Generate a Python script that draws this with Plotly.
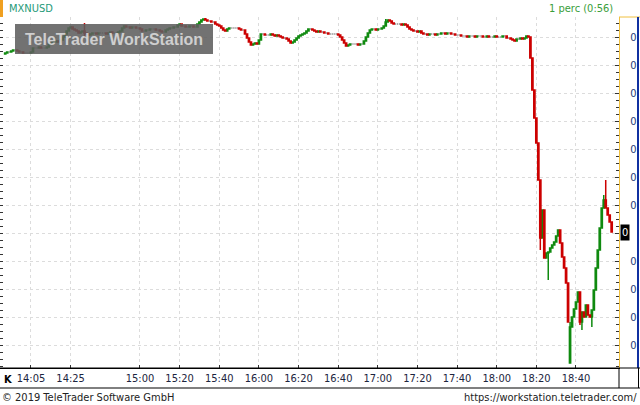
import plotly.graph_objects as go
import pandas as pd
import numpy as np

# ---------------- data ----------------
symbol = "MXNUSD"
interval_label = "1 perc (0:56)"
start_time = "2019-05-30 13:52"
range_start = "2019-05-30 13:49:22"
range_end = "2019-05-30 19:01:42"

# 1-minute closes, in millionths (51920 -> 0.051920)
closes_u6 = [
    51920, 51925, 51925, 51930, 51935, 51935, 51930, 51925, 51925, 51920,
    51920, 51920, 51920, 51925, 51945, 51945, 51945, 51950, 51945, 51945,
    51945, 51950, 51965, 51970, 51975, 51975, 51980, 51975, 51985, 52000,
    52015, 52030, 52045, 52050, 52040, 52035, 52030, 52020, 52025, 52030,
    52020, 52015, 52010, 52015, 52020, 52020, 52015, 52020, 52020, 52020,
    52020, 52015, 52020, 52025, 52020, 52020, 52020, 52025, 52030, 52045,
    52055, 52050, 52050, 52045, 52050, 52050, 52045, 52045, 52040, 52030,
    52030, 52035, 52035, 52040, 52040, 52040, 52035, 52035, 52030, 52025,
    52025, 52035, 52040, 52045, 52045, 52050, 52050, 52060, 52065, 52055,
    52055, 52050, 52050, 52055, 52055, 52050, 52050, 52065, 52075, 52085,
    52090, 52085, 52080, 52080, 52075, 52075, 52065, 52060, 52055, 52045,
    52035, 52030, 52040, 52045, 52045, 52045, 52045, 52045, 52040, 52035,
    52035, 52015, 51995, 51975, 51960, 51965, 51970, 51965, 51985, 52015,
    52015, 52010, 52010, 52010, 52015, 52010, 52005, 52010, 52005, 52000,
    51995, 51995, 51990, 51980, 51970, 51975, 51985, 51995, 52005, 52010,
    52015, 52020, 52030, 52040, 52040, 52035, 52030, 52025, 52030, 52025,
    52025, 52020, 52020, 52015, 52015, 52015, 52015, 52015, 52010, 52000,
    51985, 51970, 51955, 51960, 51965, 51965, 51965, 51965, 51960, 51965,
    51965, 51980, 52000, 52020, 52035, 52040, 52040, 52035, 52040, 52040,
    52045, 52055, 52075, 52085, 52080, 52070, 52065, 52065, 52065, 52065,
    52060, 52065, 52060, 52050, 52040, 52035, 52030, 52030, 52025, 52030,
    52020, 52015, 52015, 52010, 52015, 52015, 52015, 52010, 52015, 52015,
    52020, 52020, 52015, 52020, 52020, 52015, 52015, 52010, 52010, 52010,
    52005, 52005, 52005, 52000, 52005, 52005, 52005, 52000, 52005, 52005,
    52005, 52000, 52000, 52005, 52000, 52000, 52000, 52005, 52000, 52000,
    52000, 52005, 52005, 51995, 51995, 51990, 51985, 51980, 51990, 51990,
    51995, 51990, 51995, 52005, 52000, 51895, 51735, 51595, 51470, 51285,
    50995, 51135, 50895, 50920, 50925, 50945, 50960, 50975, 51005, 51035,
    50970, 50900, 50845, 50770, 50575, 50550, 50600, 50640, 50675, 50725,
    50575, 50625, 50600, 50660, 50610, 50600, 50635, 50735, 50845, 50935,
    51045, 51145, 51185, 51145, 51110, 51075, 51025,
]
first_open_u6 = 51915
open_overrides_u6 = {285: 50370}
high_overrides_u6 = {40: 52070, 101: 52095, 192: 52090, 285: 50575,
                     302: 51210, 303: 51285}
low_overrides_u6 = {40: 52000, 270: 50935, 274: 50785, 290: 50560,
                    291: 50535, 296: 50550}

x_tick_labels = ["14:05", "14:25", "15:00", "15:20", "15:40", "16:00", "16:20",
                 "16:40", "17:00", "17:20", "17:40", "18:00", "18:20", "18:40"]
y_tick_values_u6 = [52000, 51860, 51720, 51580, 51440, 51300, 51160, 51020,
                    50880, 50740, 50600, 50460]
y_tick_text = ["0", "0", "0", "0", "0", "0", "0", "", "0", "0", "0", "0"]
y_range_u6 = [50345, 52100]
last_value_text = "0"

# ---------------- build ----------------
scale = 1e-6
closes = np.array(closes_u6) * scale
opens_u6 = [first_open_u6] + closes_u6[:-1]
for k, v in open_overrides_u6.items():
    opens_u6[k] = v
opens = np.array(opens_u6) * scale
highs = np.maximum(opens, closes)
lows = np.minimum(opens, closes)
for k, v in high_overrides_u6.items():
    highs[k] = v * scale
for k, v in low_overrides_u6.items():
    lows[k] = v * scale
times = pd.date_range(start_time, periods=len(closes), freq="1min")

GREEN = "#0f8a0f"
RED = "#cc0000"
GRAY = "#8a8a8a"

fig = go.Figure()
groups = [(closes == opens, GRAY), (closes > opens, GREEN), (closes < opens, RED)]
for mask, col in groups:
    fig.add_trace(go.Candlestick(
        x=times[mask], open=opens[mask], high=highs[mask], low=lows[mask], close=closes[mask],
        increasing=dict(line=dict(color=col, width=1.5), fillcolor=col),
        decreasing=dict(line=dict(color=col, width=1.5), fillcolor=col),
        whiskerwidth=0, showlegend=False, hoverinfo="skip"))

# helper trace for the left tick axis
fig.add_trace(go.Scatter(x=[times[0]], y=[closes[0]], yaxis="y2", mode="markers",
                         marker=dict(opacity=0), showlegend=False, hoverinfo="skip"))

W, H = 640, 405
L, R, T, B = 0, 619, 17, 368


def px(x):
    return (x - L) / (R - L)


def py(y):
    return (B - y) / (B - T)


FONT = "DejaVu Sans Condensed"
date_prefix = start_time.split(" ")[0] + " "
GRID = "#dcdcdc"

fig.update_layout(
    width=W, height=H, template="none",
    paper_bgcolor="white", plot_bgcolor="white",
    margin=dict(l=L, r=W - R, t=T, b=H - B, pad=0),
    font=dict(family=FONT, size=10, color="#1c2540"),
    boxgap=0.1,
    xaxis=dict(type="date", range=[range_start, range_end], rangeslider=dict(visible=False),
               tickmode="array", tickvals=[date_prefix + t for t in x_tick_labels],
               ticktext=x_tick_labels, showgrid=True, gridcolor=GRID, griddash="dot",
               gridwidth=1, showline=True, linecolor="black", linewidth=1, ticks="inside",
               ticklen=3, tickcolor="#333", tickfont=dict(size=11, color="#1c2540"),
               zeroline=False, automargin=False, fixedrange=True),
    yaxis=dict(side="right", range=[v * scale for v in y_range_u6], tickmode="array",
               tickvals=[v * scale for v in y_tick_values_u6], ticktext=y_tick_text,
               showgrid=True, gridcolor=GRID, griddash="dot", gridwidth=1,
               showline=True, linecolor="#f0c040", linewidth=1, ticks="inside", ticklen=4,
               tickcolor="#333", tickfont=dict(size=11, color="#1f3a78"),
               ticklabelstandoff=8,
               minor=dict(tickmode="linear", tick0=y_tick_values_u6[0] * scale,
                          dtick=(y_tick_values_u6[0] - y_tick_values_u6[1]) * scale / 4,
                          ticks="inside", ticklen=3, tickcolor="#333", showgrid=False),
               zeroline=False, automargin=False, fixedrange=True),
    yaxis2=dict(overlaying="y", side="left", range=[v * scale for v in y_range_u6],
                tickmode="linear", tick0=y_tick_values_u6[0] * scale,
                dtick=(y_tick_values_u6[0] - y_tick_values_u6[1]) * scale / 4,
                ticks="inside", ticklen=3, tickcolor="#333", showticklabels=False,
                showgrid=False, showline=True, linecolor="black", linewidth=1,
                zeroline=False, automargin=False, fixedrange=True),
)

shapes = [
    # orange marker by the title
    dict(type="rect", xref="paper", yref="paper", x0=px(0), x1=px(3), y0=py(0), y1=py(17),
         fillcolor="#f0a020", line=dict(width=0)),
    # watermark box
    dict(type="rect", xref="paper", yref="paper", x0=px(15), x1=px(213), y0=py(24), y1=py(54),
         fillcolor="rgba(95,95,95,0.88)", line=dict(width=0), layer="above"),
    # frame lines
    dict(type="line", xref="paper", yref="paper", x0=px(619), x1=px(640), y0=py(17), y1=py(17),
         line=dict(color="#f0c040", width=1)),
    dict(type="line", xref="paper", yref="paper", x0=px(638), x1=px(638), y0=py(17), y1=py(368),
         line=dict(color="#1030a0", width=2)),
    dict(type="line", xref="paper", yref="paper", x0=px(0), x1=px(640), y0=py(368), y1=py(368),
         line=dict(color="black", width=1)),
    dict(type="line", xref="paper", yref="paper", x0=px(0), x1=px(640), y0=py(388), y1=py(388),
         line=dict(color="black", width=1)),
    dict(type="line", xref="paper", yref="paper", x0=px(619), x1=px(619), y0=py(368), y1=py(388),
         line=dict(color="black", width=1)),
    dict(type="line", xref="paper", yref="paper", x0=px(638.5), x1=px(638.5), y0=py(368), y1=py(388),
         line=dict(color="black", width=1)),
]
fig.update_layout(shapes=shapes)

annotations = [
    dict(text=symbol, xref="paper", yref="paper", x=px(7), y=py(9), xanchor="left",
         yanchor="middle", showarrow=False, font=dict(size=11, color="#1e9a78")),
    dict(text=interval_label, xref="paper", yref="paper", x=px(615), y=py(9), xanchor="right",
         yanchor="middle", showarrow=False, font=dict(size=11, color="#3a9e3a")),
    dict(text="<b>TeleTrader WorkStation</b>", xref="paper", yref="paper", x=px(114), y=py(39.5),
         xanchor="center", yanchor="middle", showarrow=False,
         font=dict(family="Liberation Sans", size=16, color="rgba(225,225,225,0.85)")),
    dict(text="<b>K</b>", xref="paper", yref="paper", x=px(2), y=py(379), xanchor="left",
         yanchor="middle", showarrow=False, font=dict(size=11, color="black")),
    dict(text="© 2019 TeleTrader Software GmbH", xref="paper", yref="paper", x=px(0), y=py(397),
         xanchor="left", yanchor="middle", showarrow=False, font=dict(size=11, color="#222")),
    dict(text="https://workstation.teletrader.com/", xref="paper", yref="paper", x=px(639),
         y=py(397), xanchor="right", yanchor="middle", showarrow=False,
         font=dict(size=11, color="#222")),
    dict(text=last_value_text, xref="paper", yref="y", x=px(619.5), y=closes[-1],
         xanchor="left", yanchor="middle", showarrow=False, bgcolor="black", borderpad=1,
         font=dict(size=11, color="white")),
]
fig.update_layout(annotations=annotations)

fig.write_html("out.html", config={"displayModeBar": False},
               post_script="document.body.style.margin='0';")
